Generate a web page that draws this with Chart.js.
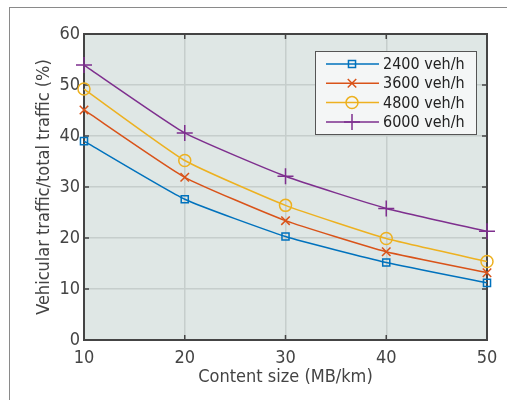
<!DOCTYPE html>
<html>
<head>
<meta charset="utf-8">
<script src="https://cdn.jsdelivr.net/npm/chart.js@4"></script>
<style>
  html, body { margin: 0; padding: 0; background: #fff; }
  #wrap { position: relative; width: 507px; height: 400px; }
  #frame { position: absolute; left: 9px; top: 7px; width: 510px; height: 400px;
           border-top: 1px solid #8a8a8a; border-left: 1px solid #8a8a8a; }
</style>
</head>
<body>
<div id="wrap">
  <div id="frame"></div>
  <canvas id="chart" width="507" height="400"></canvas>
</div>
<script>
const contentSize = [10, 20, 30, 40, 50];
const labels = ['2400 veh/h', '3600 veh/h', '4800 veh/h', '6000 veh/h'];
const traffic2400 = [39.0, 27.6, 20.3, 15.2, 11.2];
const traffic3600 = [45.1, 31.9, 23.4, 17.3, 13.2];
const traffic4800 = [49.2, 35.2, 26.4, 19.9, 15.4];
const traffic6000 = [53.9, 40.6, 32.1, 25.8, 21.3];
const colors = ['#0072BD', '#D95319', '#EDB120', '#7E2F8E'];
const markers = ['rect', 'crossRot', 'circle', 'cross'];
const markerSize = [5, 6, 6, 8];

const FONT = '"DejaVu Sans Condensed", sans-serif';
const TEXT = '#444';

function series(i, values) {
    return {
        label: labels[i],
        data: contentSize.map((x, k) => ({ x: x, y: values[k] })),
        borderColor: colors[i],
        backgroundColor: 'transparent',
        borderWidth: 1.5,
        pointStyle: markers[i],
        pointRadius: markerSize[i],
        pointBorderWidth: 1.5,
        pointBorderColor: colors[i],
        pointBackgroundColor: 'transparent',
        tension: 0.15,
        clip: false
    };
}

// plot background, box and inner ticks, like a matlab axes
const boxPlugin = {
    id: 'box',
    beforeDraw(chart) {
        const { ctx, chartArea: a } = chart;
        ctx.save();
        ctx.fillStyle = '#dfe7e5';
        ctx.fillRect(a.left, a.top, a.right - a.left, a.bottom - a.top);
        ctx.restore();
    },
    beforeDatasetsDraw(chart) {
        const { ctx, chartArea: a, scales } = chart;
        ctx.save();
        ctx.strokeStyle = '#444';
        ctx.lineWidth = 2;
        ctx.strokeRect(a.left, a.top, a.right - a.left, a.bottom - a.top);
        ctx.lineWidth = 1.5;
        ctx.beginPath();
        contentSize.forEach(v => {
            const x = scales.x.getPixelForValue(v);
            ctx.moveTo(x, a.top); ctx.lineTo(x, a.top + 5);
            ctx.moveTo(x, a.bottom); ctx.lineTo(x, a.bottom - 5);
        });
        [0, 10, 20, 30, 40, 50, 60].forEach(v => {
            const y = scales.y.getPixelForValue(v);
            ctx.moveTo(a.left, y); ctx.lineTo(a.left + 5, y);
            ctx.moveTo(a.right, y); ctx.lineTo(a.right - 5, y);
        });
        ctx.stroke();
        ctx.restore();
    },
    afterDatasetsDraw(chart) {
        const { ctx } = chart;
        ctx.save();
        // legend box
        const lx = 315, ly = 51, lw = 161, lh = 83;
        ctx.fillStyle = '#f4f6f6';
        ctx.fillRect(lx, ly, lw, lh);
        ctx.strokeStyle = '#555';
        ctx.lineWidth = 1;
        ctx.strokeRect(lx + 0.5, ly + 0.5, lw, lh);
        ctx.font = '16px ' + FONT;
        ctx.textBaseline = 'middle';
        chart.data.datasets.forEach((ds, i) => {
            const y = ly + 13 + i * 19.3;
            ctx.strokeStyle = ds.borderColor;
            ctx.lineWidth = 1.5;
            ctx.beginPath();
            ctx.moveTo(lx + 11, y); ctx.lineTo(lx + 64, y);
            ctx.stroke();
            ctx.fillStyle = 'rgba(0,0,0,0)';
            Chart.helpers.drawPoint(ctx, {
                pointStyle: ds.pointStyle, radius: ds.pointRadius,
                borderWidth: 1.5, rotation: 0
            }, lx + 37, y);
            ctx.fillStyle = '#222';
            ctx.fillText(ds.label, lx + 68, y + 1);
        });
        ctx.restore();
    }
};

new Chart(document.getElementById('chart'), {
    type: 'line',
    data: {
        datasets: [
            series(0, traffic2400),
            series(1, traffic3600),
            series(2, traffic4800),
            series(3, traffic6000)
        ]
    },
    options: {
        responsive: false,
        animation: false,
        layout: { padding: { left: 34, right: 20, top: 34, bottom: 12 } },
        plugins: { legend: { display: false }, tooltip: { enabled: false } },
        scales: {
            x: {
                type: 'linear', min: 10, max: 50,
                ticks: { stepSize: 10, color: TEXT, font: { family: FONT, size: 18 }, padding: 8, maxRotation: 0 },
                grid: { color: '#c6cecc', lineWidth: 1.5, drawTicks: false },
                border: { display: false },
                title: { display: true, text: 'Content size (MB/km)', color: TEXT,
                         font: { family: FONT, size: 18 }, padding: 0 },
                afterFit(scale) { scale.height = 48; }
            },
            y: {
                min: 0, max: 60,
                ticks: { stepSize: 10, color: TEXT, font: { family: FONT, size: 18 }, padding: 4 },
                grid: { color: '#c6cecc', lineWidth: 1.5, drawTicks: false },
                border: { display: false },
                title: { display: true, text: 'Vehicular traffic/total traffic (%)', color: TEXT,
                         font: { family: FONT, size: 18 }, padding: 0 },
                afterFit(scale) { scale.width = 50; }
            }
        }
    },
    plugins: [boxPlugin]
});
</script>
</body>
</html>
